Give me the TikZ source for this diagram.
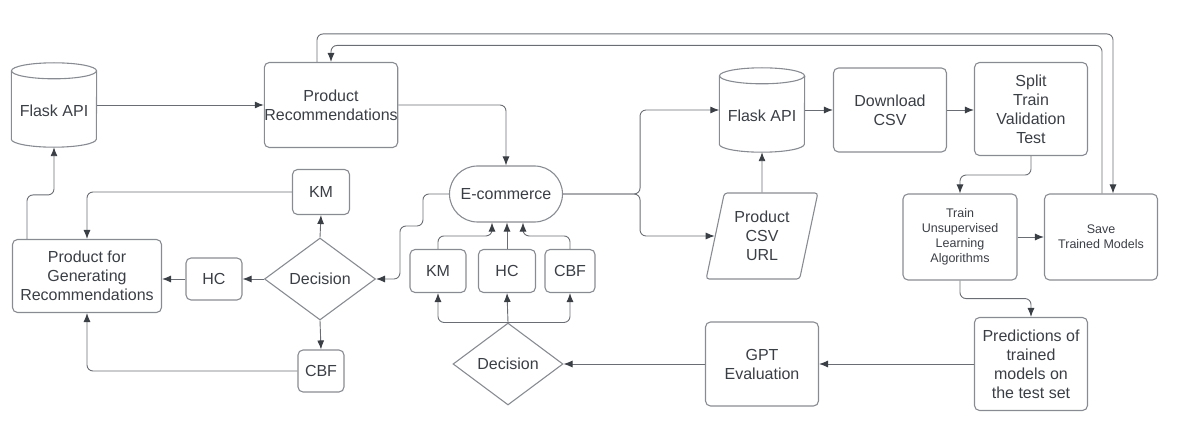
\documentclass[tikz,border=0pt]{standalone}
\usepackage{fontspec}
\setmainfont{Liberation Sans}
\usepackage{xcolor}
\usetikzlibrary{arrows.meta,positioning,calc,shapes.geometric}

\definecolor{linec}{HTML}{6A6E74}
\definecolor{boxc}{HTML}{888C92}
\definecolor{inkc}{HTML}{3A3E45}

% cylinder outline round a plain node
\newcommand{\dbdraw}[1]{%
  \draw[boxc,line width=1.1pt] ([yshift=-8pt]#1.north west) -- ([yshift=8pt]#1.south west)
    arc[start angle=180,end angle=360,x radius=42.5pt,y radius=8pt]
    -- ([yshift=-8pt]#1.north east);
  \draw[boxc,line width=1.1pt] ([yshift=-8pt]#1.north) ellipse[x radius=42.5pt,y radius=8pt];
}

\begin{document}
\begin{tikzpicture}[x=1pt,y=-1pt,font=\fontsize{16}{19}\selectfont,text=inkc,
  >={Latex[length=9pt,width=7pt,color=inkc]},
  box/.style={draw=boxc,line width=1.1pt,rounded corners=5pt,align=center,inner sep=0pt},
  small/.style={font=\fontsize{12.5}{15}\selectfont},
  db/.style={align=center,inner sep=0pt,minimum width=85,minimum height=84},
  dec/.style={diamond,draw=boxc,line width=1.1pt,aspect=1.35,inner sep=0pt,minimum width=111,minimum height=82},
  flow/.style={draw=linec,line width=0.9pt,rounded corners=6pt,->}]
  \useasboundingbox (0,0) rectangle (1179,433);

  % left part
  \node[db] (api1) at (54,105) {\raisebox{-6pt}[\height][\depth]{Flask API}};
  \dbdraw{api1}
  \node[box,minimum width=133,minimum height=85] (prodrec) at (331,105) {Product\\Recommendations};
  \node[box,minimum width=57,minimum height=45] (km1) at (321,192) {KM};
  \node[dec] (dec1) at (320,279) {Decision};
  \node[box,minimum width=56,minimum height=42] (hc1) at (214,279) {HC};
  \node[box,minimum width=149,minimum height=73] (prodgen) at (87,276) {Product for\\Generating\\Recommendations};
  \node[box,minimum width=46,minimum height=42] (cbf1) at (321,371) {CBF};

  % middle part
  \node[box,rounded corners=28pt,minimum width=113,minimum height=56] (ecom) at (506,194) {E-commerce};
  \node[box,minimum width=56,minimum height=43] (km2) at (438,271) {KM};
  \node[box,minimum width=57,minimum height=43] (hc2) at (507,271) {HC};
  \node[box,minimum width=50,minimum height=43] (cbf2) at (570,271) {CBF};
  \node[dec,minimum width=110] (dec2) at (508,364) {Decision};
  \node[box,minimum width=113,minimum height=84] (gpt) at (762,364) {GPT\\Evaluation};

  % right part
  \node[db] (api2) at (762,110) {\raisebox{-6pt}[\height][\depth]{Flask API}};
  \dbdraw{api2}
  \node[trapezium,trapezium left angle=75,trapezium right angle=105,trapezium stretches=true,
        draw=boxc,line width=1.1pt,rounded corners=3pt,align=center,inner sep=0pt,
        minimum width=112,minimum height=86] (csv) at (762,236) {Product\\CSV\\URL};
  \node[box,minimum width=113,minimum height=84] (dl) at (890,110) {Download\\CSV};
  \node[box,minimum width=113,minimum height=93] (split) at (1031,109) {Split\\Train\\Validation\\Test};
  \node[box,small,minimum width=114,minimum height=86] (train) at (960,237) {Train\\Unsupervised\\Learning\\Algorithms};
  \node[box,small,minimum width=113,minimum height=86] (save) at (1101,237) {Save\\Trained Models};
  \node[box,minimum width=113,minimum height=93] (pred) at (1031,364) {Predictions of\\trained\\models on\\the test set};

  % connectors
  \draw[flow] (api1.east) -- (api1.east -| prodrec.west);
  \draw[flow] (prodrec.east) -| (ecom.north);
  \draw[flow] ([xshift=-14pt]prodrec.north) -- ++(0,-28) -| ([xshift=12pt]save.north);
  \draw[flow] ([xshift=1pt]save.north) -- ++(0,-148) -| (prodrec.north);
  \draw[flow] (dec1.north) -- (km1.south);
  \draw[flow] (dec1.west) -- (hc1.east);
  \draw[flow] (dec1.south) -- (cbf1.north);
  \draw[flow] (hc1.west) -- (hc1.west -| prodgen.east);
  \draw[flow] (km1.west) -| (prodgen.north);
  \draw[flow] (cbf1.west) -| (prodgen.south);
  \draw[flow] ([xshift=-60pt]prodgen.north) -- ++(0,-44) -| (api1.south);
  \draw[flow] (ecom.west) -- ++(-26,0) -- ++(0,32) -- ++(-23,0) |- (dec1.east);
  \draw[flow] (km2.north) -- ++(0,-13) -| ([xshift=-14pt]ecom.south);
  \draw[flow] (hc2.north) -- (hc2.north |- ecom.south);
  \draw[flow] (cbf2.north) -- ++(0,-13) -| ([xshift=17pt]ecom.south);
  \draw[flow] (dec2.north) -| (km2.south);
  \draw[flow] (dec2.north) -- (hc2.south);
  \draw[flow] (dec2.north) -| (cbf2.south);
  \draw[flow] (gpt.west) -- (dec2.east);
  \draw[flow] (pred.west) -- (gpt.east);
  \draw[flow] (ecom.east) -- ++(77,0) |- (api2.west);
  \draw[flow] (ecom.east) -- ++(77,0) |- (csv.west);
  \draw[flow] (csv.north) -- (api2.south);
  \draw[flow] (api2.east) -- (dl.west);
  \draw[flow] (dl.east) -- (dl.east -| split.west);
  \draw[flow] (split.south) -- ++(0,19) -| (train.north);
  \draw[flow] (train.east) -- (save.west);
  \draw[flow] (train.south) -- ++(0,18) -| (pred.north);
\end{tikzpicture}
\end{document}
